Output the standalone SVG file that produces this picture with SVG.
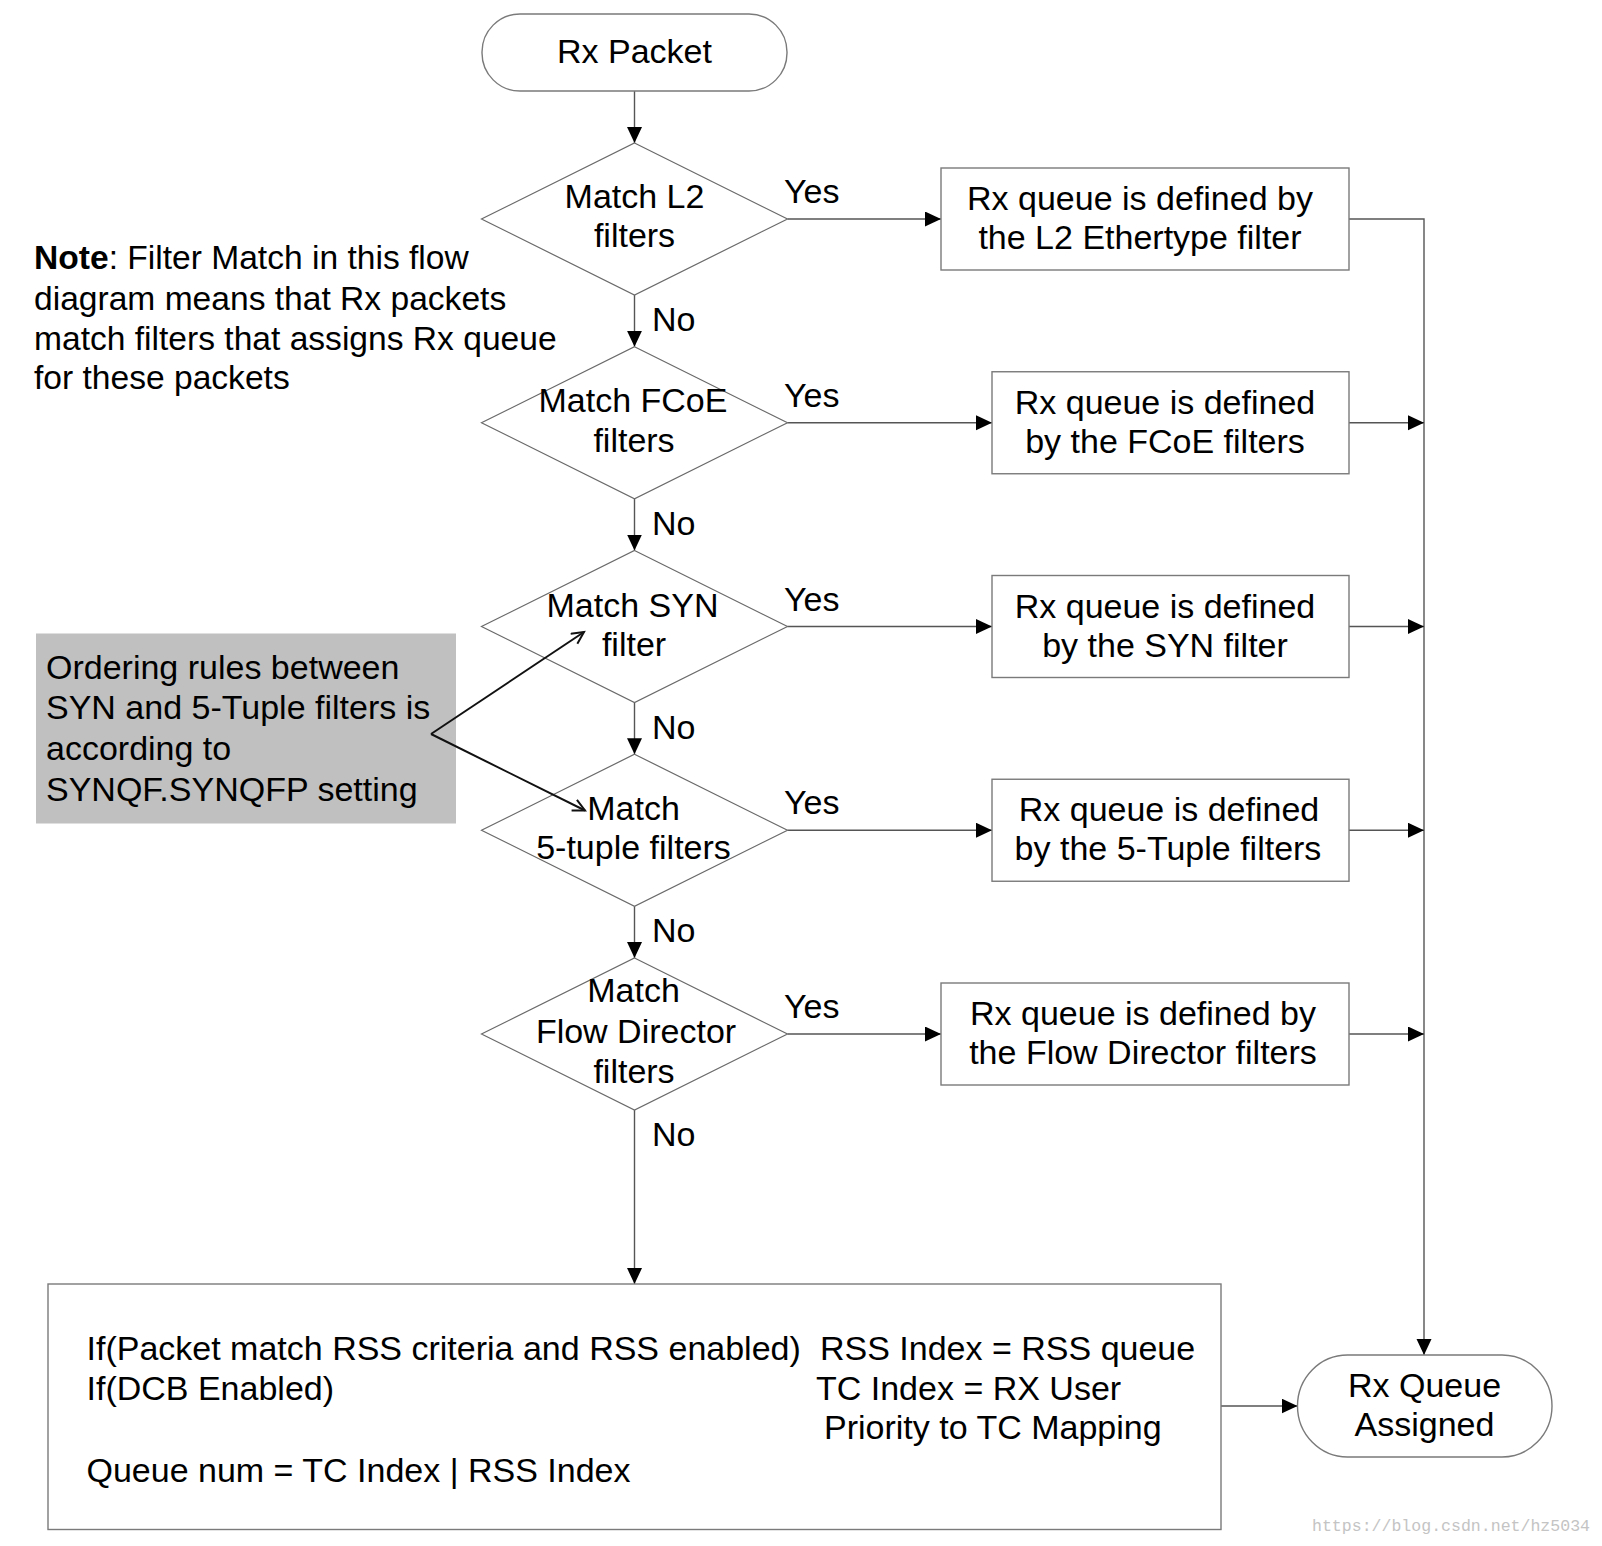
<svg xmlns="http://www.w3.org/2000/svg" width="1602" height="1546" viewBox="0 0 1602 1546">
<style>
text{font-family:"Liberation Sans",Arial,sans-serif;font-size:34px;fill:#000}
.c{text-anchor:middle}
.nt{font-size:33.6px}
.shape{fill:#fff;stroke:#7a7a7a;stroke-width:1.4}
.dia{fill:#fff;stroke:#6a6a6a;stroke-width:1.2}
.ln{fill:none;stroke:#555;stroke-width:1.4}
.ln2{fill:none;stroke:#111;stroke-width:2}
.wm{font-family:"Liberation Mono",monospace;font-size:17px;fill:#c4c4c4}
</style>
<defs>
<marker id="ah" markerUnits="userSpaceOnUse" markerWidth="17" markerHeight="16" refX="16" refY="7.5" orient="auto">
<path d="M0,0 L16,7.5 L0,15 z" fill="#000"/>
</marker>
<marker id="oh" markerUnits="userSpaceOnUse" markerWidth="16" markerHeight="16" refX="13" refY="7" orient="auto">
<path d="M1,1 L13,7 L1,13" fill="none" stroke="#111" stroke-width="2"/>
</marker>
</defs>
<rect width="1602" height="1546" fill="#fff"/>

<g id="connectors">
<line class="ln" x1="634.5" y1="91" x2="634.5" y2="143" marker-end="url(#ah)"/>
<line class="ln" x1="634.5" y1="295" x2="634.5" y2="346.75" marker-end="url(#ah)"/>
<line class="ln" x1="634.5" y1="498.75" x2="634.5" y2="550.5" marker-end="url(#ah)"/>
<line class="ln" x1="634.5" y1="702.5" x2="634.5" y2="754.25" marker-end="url(#ah)"/>
<line class="ln" x1="634.5" y1="906.25" x2="634.5" y2="958" marker-end="url(#ah)"/>
<line class="ln" x1="634.5" y1="1110" x2="634.5" y2="1284" marker-end="url(#ah)"/>
<line class="ln" x1="787.5" y1="219" x2="941" y2="219" marker-end="url(#ah)"/>
<line class="ln" x1="787.5" y1="422.75" x2="992" y2="422.75" marker-end="url(#ah)"/>
<line class="ln" x1="787.5" y1="626.5" x2="992" y2="626.5" marker-end="url(#ah)"/>
<line class="ln" x1="787.5" y1="830.25" x2="992" y2="830.25" marker-end="url(#ah)"/>
<line class="ln" x1="787.5" y1="1034" x2="941" y2="1034" marker-end="url(#ah)"/>
<path class="ln" d="M1349,219 H1424 V1355" marker-end="url(#ah)"/>
<line class="ln" x1="1349" y1="422.75" x2="1424" y2="422.75" marker-end="url(#ah)"/>
<line class="ln" x1="1349" y1="626.5" x2="1424" y2="626.5" marker-end="url(#ah)"/>
<line class="ln" x1="1349" y1="830.25" x2="1424" y2="830.25" marker-end="url(#ah)"/>
<line class="ln" x1="1349" y1="1034" x2="1424" y2="1034" marker-end="url(#ah)"/>
<line class="ln" x1="1221" y1="1406" x2="1297.5" y2="1406" marker-end="url(#ah)"/>
<g id="labels">
<text x="784" y="203">Yes</text>
<text x="784" y="406.75">Yes</text>
<text x="784" y="610.5">Yes</text>
<text x="784" y="814.25">Yes</text>
<text x="784" y="1018">Yes</text>
<text x="652" y="331">No</text>
<text x="652" y="534.75">No</text>
<text x="652" y="738.5">No</text>
<text x="652" y="942.25">No</text>
<text x="652" y="1146">No</text>
</g>
</g>

<g id="rx-packet">
<rect class="shape" x="482" y="14" width="305" height="77" rx="38" ry="38"/>
<text class="c" x="634.5" y="63">Rx Packet</text>
</g>

<g id="d-l2">
<polygon class="dia" points="634.5,143 787.5,219 634.5,295 481.5,219"/>
<text class="c" x="634.5" y="208">Match L2</text>
<text class="c" x="634.5" y="247">filters</text>
</g>
<g id="d-fcoe">
<polygon class="dia" points="634.5,346.75 787.5,422.75 634.5,498.75 481.5,422.75"/>
<text class="c" x="633" y="411.75">Match FCoE</text>
<text class="c" x="634" y="451.75">filters</text>
</g>
<g id="d-syn">
<polygon class="dia" points="634.5,550.5 787.5,626.5 634.5,702.5 481.5,626.5"/>
<text class="c" x="632.5" y="616.5">Match SYN</text>
<text class="c" x="634" y="655.5">filter</text>
</g>
<g id="d-5tuple">
<polygon class="dia" points="634.5,754.25 787.5,830.25 634.5,906.25 481.5,830.25"/>
<text class="c" x="633.5" y="820.25">Match</text>
<text class="c" x="633.5" y="859.25">5-tuple filters</text>
</g>
<g id="d-fd">
<polygon class="dia" points="634.5,958 787.5,1034 634.5,1110 481.5,1034"/>
<text class="c" x="633.5" y="1002">Match</text>
<text class="c" x="636" y="1043">Flow Director</text>
<text class="c" x="634" y="1083">filters</text>
</g>

<g id="b-l2">
<rect class="shape" x="941" y="168" width="408" height="102"/>
<text class="c" x="1140" y="210">Rx queue is defined by</text>
<text class="c" x="1140" y="249">the L2 Ethertype filter</text>
</g>
<g id="b-fcoe">
<rect class="shape" x="992" y="371.75" width="357" height="102"/>
<text class="c" x="1165" y="413.75">Rx queue is defined</text>
<text class="c" x="1165" y="452.75">by the FCoE filters</text>
</g>
<g id="b-syn">
<rect class="shape" x="992" y="575.5" width="357" height="102"/>
<text class="c" x="1165" y="617.5">Rx queue is defined</text>
<text class="c" x="1165" y="656.5">by the SYN filter</text>
</g>
<g id="b-5tuple">
<rect class="shape" x="992" y="779.25" width="357" height="102"/>
<text class="c" x="1169" y="821.25">Rx queue is defined</text>
<text class="c" x="1168" y="860.25">by the 5-Tuple filters</text>
</g>
<g id="b-fd">
<rect class="shape" x="941" y="983" width="408" height="102"/>
<text class="c" x="1143" y="1025">Rx queue is defined by</text>
<text class="c" x="1143" y="1064">the Flow Director filters</text>
</g>

<g id="note">
<text class="nt" x="34" y="269"><tspan font-weight="bold">Note</tspan>: Filter Match in this flow</text>
<text class="nt" x="34" y="309.5">diagram means that Rx packets</text>
<text class="nt" x="34" y="349.5">match filters that assigns Rx queue</text>
<text class="nt" x="34" y="389">for these packets</text>
</g>

<g id="ordering-note">
<rect x="36" y="633.5" width="420" height="190" fill="#c0c0c0"/>
<text x="46" y="678.5">Ordering rules between</text>
<text x="46" y="719">SYN and 5-Tuple filters is</text>
<text x="46" y="760">according to</text>
<text x="46" y="800.5">SYNQF.SYNQFP setting</text>
<line class="ln2" x1="431" y1="734" x2="584" y2="632" marker-end="url(#oh)"/>
<line class="ln2" x1="431" y1="734" x2="585" y2="810.5" marker-end="url(#oh)"/>
</g>

<g id="rss-box">
<rect class="shape" x="48" y="1284" width="1173" height="245.5"/>
<text x="86.5" y="1360">If(Packet match RSS criteria and RSS enabled)</text>
<text x="86.5" y="1399.5">If(DCB Enabled)</text>
<text x="86.5" y="1481.5">Queue num = TC Index | RSS Index</text>
<text x="820" y="1360">RSS Index = RSS queue</text>
<text x="816" y="1399.5">TC Index = RX User</text>
<text x="824" y="1439">Priority to TC Mapping</text>
</g>

<g id="rx-queue-assigned">
<rect class="shape" x="1297.5" y="1355" width="254.5" height="102" rx="50" ry="51"/>
<text class="c" x="1424.5" y="1396.5">Rx Queue</text>
<text class="c" x="1424.5" y="1435.5">Assigned</text>
</g>

<text class="wm" x="1312" y="1531" textLength="278" lengthAdjust="spacingAndGlyphs">https://blog.csdn.net/hz5034</text>
</svg>
